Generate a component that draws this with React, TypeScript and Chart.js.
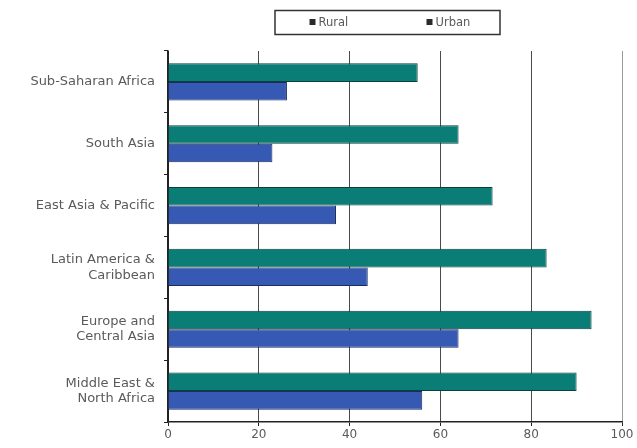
import React, { useEffect, useRef } from "react";
import { Chart, registerables } from "chart.js";

Chart.register(...registerables);

const categories: (string | string[])[] = [
  "Sub-Saharan Africa",
  "South Asia",
  "East Asia & Pacific",
  ["Latin America &", "Caribbean"],
  ["Europe and", "Central Asia"],
  ["Middle East &", "North Africa"],
];
const urbanValues = [55, 64, 71.5, 83.4, 93.3, 90];
const ruralValues = [26.2, 23, 37, 44, 64, 56];
const xTicks = [0, 20, 40, 60, 80, 100];
const legendLabels = ["Rural", "Urban"];

const TEAL = "#0a7d76";
const BLUE = "#3659b3";
const FONT = "'DejaVu Sans', 'Open Sans', sans-serif";

const legendBoxPlugin = {
  id: "legendBox",
  afterDraw(chart: any) {
    const { ctx, chartArea } = chart;
    const cx = (chartArea.left + chartArea.right) / 2 - 8;
    const boxW = 225;
    const boxH = 24;
    const x0 = cx - boxW / 2;
    const y0 = 10;
    ctx.save();
    ctx.strokeStyle = "#333";
    ctx.lineWidth = 1.5;
    ctx.strokeRect(x0 + 0.5, y0 + 0.5, boxW, boxH);
    ctx.font = `11.5px ${FONT}`;
    ctx.textBaseline = "middle";
    const itemX = [x0 + 35, x0 + 152];
    legendLabels.forEach((lab, i) => {
      ctx.fillStyle = "#2a2a2a";
      ctx.fillRect(itemX[i], y0 + boxH / 2 - 3, 6, 6);
      ctx.fillStyle = "#5a5a5a";
      ctx.fillText(lab, itemX[i] + 9, y0 + boxH / 2 + 1);
    });
    ctx.restore();
  },
};

export default function App() {
  const ref = useRef<HTMLCanvasElement>(null);
  useEffect(() => {
    if (!ref.current) return;
    const chart = new Chart(ref.current, {
      type: "bar",
      data: {
        labels: categories as any,
        datasets: [
          {
            label: legendLabels[1],
            data: urbanValues,
            backgroundColor: TEAL,
            borderColor: "#0b3f3b",
            borderWidth: 1,
            barPercentage: 1,
            categoryPercentage: 0.6,
          },
          {
            label: legendLabels[0],
            data: ruralValues,
            backgroundColor: BLUE,
            borderColor: "#1b2c60",
            borderWidth: 1,
            barPercentage: 1,
            categoryPercentage: 0.6,
          },
        ],
      },
      options: {
        indexAxis: "y",
        animation: false,
        responsive: true,
        maintainAspectRatio: false,
        layout: { padding: { left: 0, right: 15, top: 51, bottom: 0 } },
        plugins: {
          legend: { display: false },
          tooltip: { enabled: false },
        },
        scales: {
          x: {
            min: 0,
            max: 100,
            afterBuildTicks: (s: any) => {
              s.ticks = xTicks.map((v) => ({ value: v }));
            },
            afterFit: (s: any) => {
              s.height = 26;
            },
            grid: {
              color: (c: any) =>
                c.tick && c.tick.value === 100 ? "#9a9a9a" : c.tick && c.tick.value === 0 ? "#222" : "#4a4a4a",
              lineWidth: 1,
              drawTicks: true,
              tickLength: 4,
              tickColor: "#222",
            },
            border: { display: true, color: "#222", width: 1.5 },
            ticks: {
              color: "#5a5a5a",
              font: { family: FONT, size: 12 },
              padding: 2,
            },
          },
          y: {
            afterFit: (s: any) => {
              s.width = 168;
            },
            grid: {
              offset: true,
              drawOnChartArea: false,
              drawTicks: true,
              tickLength: 4,
              tickColor: "#222",
            },
            border: { display: true, color: "#222", width: 1.5 },
            ticks: {
              color: "#5a5a5a",
              font: { family: FONT, size: 13 },
              padding: 9,
            },
          },
        },
      },
      plugins: [legendBoxPlugin],
    });
    return () => chart.destroy();
  }, []);
  return (
    <div style={{ position: "absolute", left: 0, top: 0, width: 637, height: 448, background: "#fff" }}>
      <canvas ref={ref} />
    </div>
  );
}
